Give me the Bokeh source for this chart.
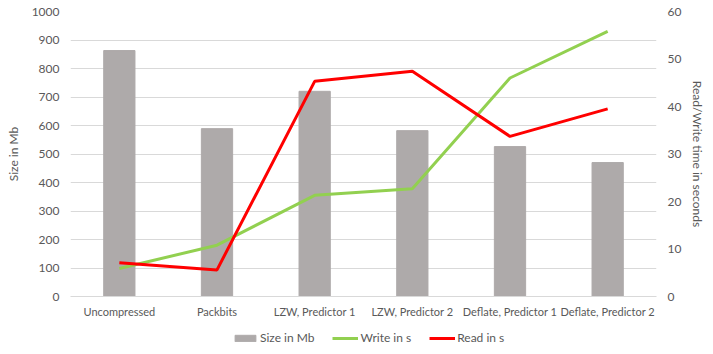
from bokeh.plotting import figure
from bokeh.layouts import column
from bokeh.models import Range1d, LinearAxis, FactorRange, Legend, LegendItem, SingleIntervalTicker, ColumnDataSource
from bokeh.embed import file_html
from bokeh.resources import INLINE

categories = ["Uncompressed", "Packbits", "LZW, Predictor 1", "LZW, Predictor 2",
              "Deflate, Predictor 1", "Deflate, Predictor 2"]
size_mb = [863, 589, 720, 582, 526, 470]
write_s = [5.9, 10.8, 21.3, 22.7, 46.0, 55.8]
read_s = [7.1, 5.6, 45.3, 47.4, 33.7, 39.5]

FONT = "Lato"
TXT = "#595959"
C_SIZE, C_WRITE, C_READ = "#AEAAAA", "#92D050", "#FF0000"

src = ColumnDataSource(dict(cat=categories, size=size_mb, write=write_s, read=read_s))

p = figure(width=713, height=326, output_backend="svg", toolbar_location=None,
           x_range=FactorRange(*categories, range_padding=0), y_range=Range1d(0, 1000),
           min_border_left=70, min_border_right=57, min_border_top=11, min_border_bottom=30)
p.outline_line_color = None
p.extra_y_ranges = {"time": Range1d(0, 60)}

bars = p.vbar(x="cat", top="size", width=0.32, source=src, color=C_SIZE)
lw = p.line(x="cat", y="write", source=src, color=C_WRITE, line_width=3, y_range_name="time")
lr = p.line(x="cat", y="read", source=src, color=C_READ, line_width=3, y_range_name="time")

p.xgrid.grid_line_color = None
p.ygrid.grid_line_color = "#D9D9D9"
p.ygrid.ticker = SingleIntervalTicker(interval=100)

def style(ax):
    ax.axis_line_color = None
    ax.major_tick_line_color = None
    ax.minor_tick_line_color = None
    ax.major_tick_out = 0
    ax.major_tick_in = 0
    ax.minor_tick_out = 0
    ax.minor_tick_in = 0
    ax.major_label_text_font = FONT
    ax.major_label_text_font_size = "12px"
    ax.major_label_text_color = TXT
    ax.axis_label_text_font = FONT
    ax.axis_label_text_font_size = "12px"
    ax.axis_label_text_font_style = "normal"
    ax.axis_label_text_color = TXT

yl = p.yaxis[0]
yl.ticker = SingleIntervalTicker(interval=100)
yl.axis_label = "Size in Mb"
style(yl)
yl.major_label_standoff = 11
yl.axis_label_standoff = 8

yr = LinearAxis(y_range_name="time", ticker=SingleIntervalTicker(interval=10),
                axis_label="Read/Write time in seconds")
style(yr)
yr.major_label_standoff = 11
yr.axis_label_standoff = 6
p.add_layout(yr, "right")

xa = p.xaxis[0]
style(xa)
xa.major_label_text_font_size = "11px"
xa.axis_line_color = "#D9D9D9"
xa.major_label_standoff = 8
xa.axis_label_standoff = 0

# legend strip below the chart (legend swatches only; the hidden sample
# renderers sit outside the strip's visible range)
p2 = figure(width=713, height=28, output_backend="svg", toolbar_location=None,
            x_range=Range1d(0, 1), y_range=Range1d(0, 1),
            x_axis_type=None, y_axis_type=None,
            min_border_left=0, min_border_right=0, min_border_top=0, min_border_bottom=0)
p2.outline_line_color = None
p2.grid.visible = False
off = dict(x=[-10, -9], y=[-10, -10])
d_bar = p2.vbar(x=off["x"], top=off["y"], width=0.1, color=C_SIZE)
d_w = p2.line(x=off["x"], y=off["y"], color=C_WRITE, line_width=3)
d_r = p2.line(x=off["x"], y=off["y"], color=C_READ, line_width=3)

legend = Legend(items=[LegendItem(label="Size in Mb", renderers=[d_bar]),
                       LegendItem(label="Write in s", renderers=[d_w]),
                       LegendItem(label="Read in s", renderers=[d_r])],
                orientation="horizontal", location=(162, 9),
                label_text_font=FONT, label_text_font_size="12px", label_text_color=TXT,
                border_line_color=None, background_fill_alpha=0,
                glyph_width=26, glyph_height=8, label_standoff=2, spacing=18,
                label_height=14, padding=0, margin=0)
p2.add_layout(legend, "center")

layout = column(p, p2, spacing=0)
open("out.html", "w").write(file_html(layout, INLINE))
